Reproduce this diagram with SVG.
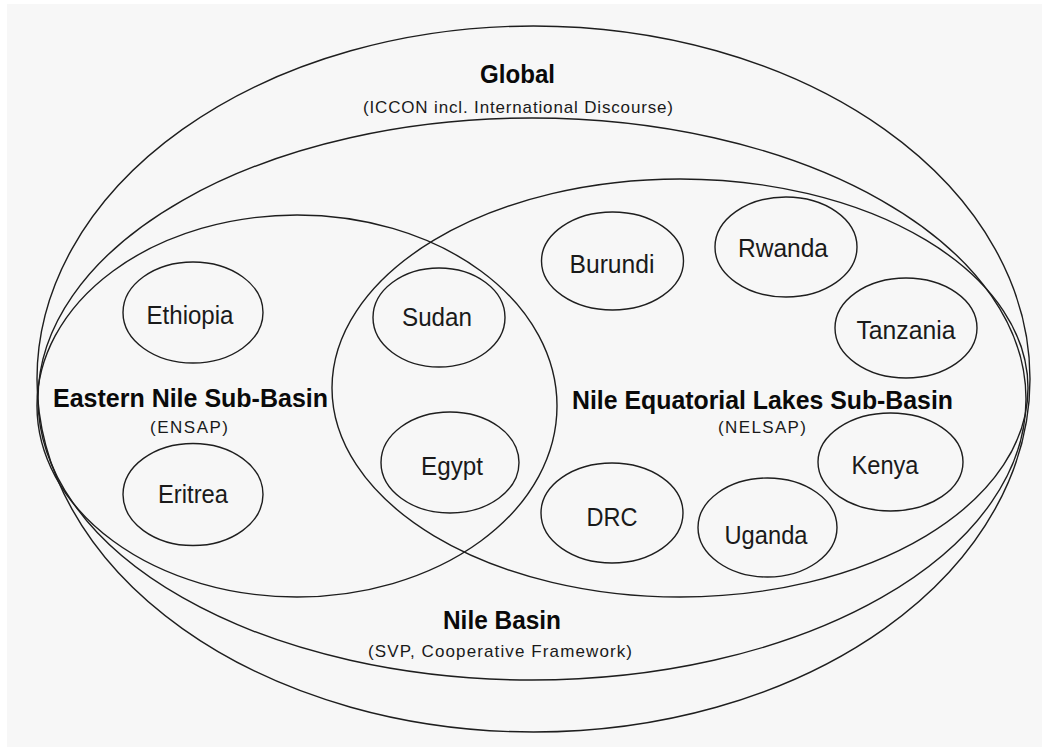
<svg xmlns="http://www.w3.org/2000/svg" width="1042" height="748" viewBox="0 0 1042 748">
<style>
.ring{fill:none;stroke:#1e1e1e;stroke-width:1.4}
.title{font-family:"Liberation Sans",Arial,sans-serif;font-weight:bold;font-size:25px;fill:#0a0a0a;text-anchor:middle}
.sub{font-family:"Liberation Sans",Arial,sans-serif;font-size:17px;fill:#1a1a1a;text-anchor:middle}
.lbl{font-family:"Liberation Sans",Arial,sans-serif;font-size:25px;fill:#1a1a1a;text-anchor:middle}
</style>
<rect x="0" y="0" width="1042" height="748" fill="#ffffff"/>
<rect x="7" y="4" width="1035" height="743" fill="#f7f7f7"/>
<g id="global">
<ellipse class="ring" cx="533.5" cy="379" rx="496.5" ry="353"/>
<text class="title" x="517.5" y="83" textLength="75" lengthAdjust="spacingAndGlyphs">Global</text>
<text class="sub" x="518" y="113" textLength="310" lengthAdjust="spacing">(ICCON incl. International Discourse)</text>
</g>
<g id="nile-basin">
<ellipse class="ring" cx="532" cy="399" rx="494" ry="281"/>
<text class="title" x="502" y="629" textLength="118" lengthAdjust="spacingAndGlyphs">Nile Basin</text>
<text class="sub" x="500" y="657" textLength="264" lengthAdjust="spacing">(SVP, Cooperative Framework)</text>
</g>
<g id="eastern-nile">
<ellipse class="ring" cx="297" cy="406" rx="260" ry="191"/>
<text class="title" x="190.5" y="407" textLength="275" lengthAdjust="spacingAndGlyphs">Eastern Nile Sub-Basin</text>
<text class="sub" x="189" y="433" textLength="78" lengthAdjust="spacing">(ENSAP)</text>
</g>
<g id="nile-equatorial-lakes">
<ellipse class="ring" cx="680" cy="388" rx="348" ry="209"/>
<text class="title" x="762.5" y="409" textLength="381" lengthAdjust="spacingAndGlyphs">Nile Equatorial Lakes Sub-Basin</text>
<text class="sub" x="762" y="433" textLength="88" lengthAdjust="spacing">(NELSAP)</text>
</g>
<g id="ethiopia">
<ellipse class="ring" cx="193" cy="312.5" rx="70" ry="50.5"/>
<text class="lbl" x="190" y="324" textLength="87" lengthAdjust="spacingAndGlyphs">Ethiopia</text>
</g>
<g id="eritrea">
<ellipse class="ring" cx="193" cy="494.5" rx="70" ry="51"/>
<text class="lbl" x="193" y="503" textLength="70" lengthAdjust="spacingAndGlyphs">Eritrea</text>
</g>
<g id="sudan">
<ellipse class="ring" cx="439" cy="317.5" rx="66" ry="49.5"/>
<text class="lbl" x="437" y="326" textLength="70" lengthAdjust="spacingAndGlyphs">Sudan</text>
</g>
<g id="egypt">
<ellipse class="ring" cx="450" cy="462.5" rx="69" ry="50.5"/>
<text class="lbl" x="452" y="475" textLength="62" lengthAdjust="spacingAndGlyphs">Egypt</text>
</g>
<g id="burundi">
<ellipse class="ring" cx="612.5" cy="261" rx="71" ry="49"/>
<text class="lbl" x="612" y="273" textLength="85" lengthAdjust="spacingAndGlyphs">Burundi</text>
</g>
<g id="rwanda">
<ellipse class="ring" cx="786" cy="247" rx="71" ry="50"/>
<text class="lbl" x="783" y="257" textLength="90" lengthAdjust="spacingAndGlyphs">Rwanda</text>
</g>
<g id="tanzania">
<ellipse class="ring" cx="906" cy="328" rx="71" ry="50"/>
<text class="lbl" x="906" y="339" textLength="99" lengthAdjust="spacingAndGlyphs">Tanzania</text>
</g>
<g id="kenya">
<ellipse class="ring" cx="890.5" cy="462" rx="72.5" ry="49"/>
<text class="lbl" x="885" y="474" textLength="67" lengthAdjust="spacingAndGlyphs">Kenya</text>
</g>
<g id="drc">
<ellipse class="ring" cx="612" cy="513" rx="71" ry="50"/>
<text class="lbl" x="612" y="526" textLength="51" lengthAdjust="spacingAndGlyphs">DRC</text>
</g>
<g id="uganda">
<ellipse class="ring" cx="767.5" cy="527.5" rx="69.5" ry="49.5"/>
<text class="lbl" x="766" y="544" textLength="83" lengthAdjust="spacingAndGlyphs">Uganda</text>
</g>
<g id="connectors"/>
</svg>
